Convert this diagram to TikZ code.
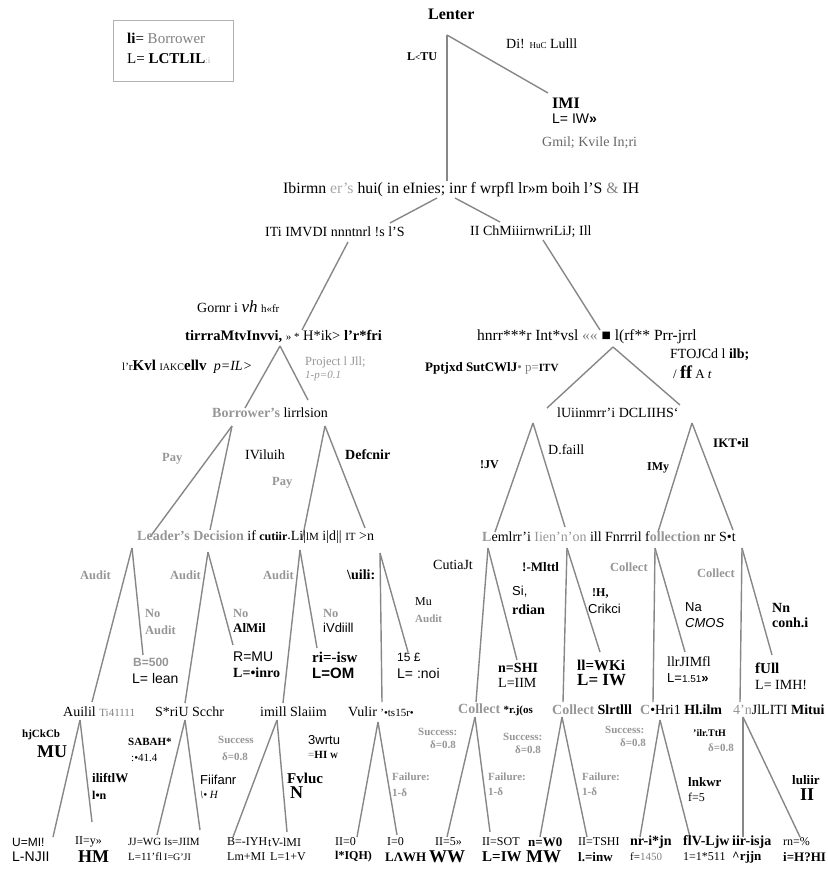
\documentclass[tikz,border=0pt]{standalone}
\usepackage{fontspec}
\setmainfont{Liberation Serif}
\setsansfont{Liberation Sans}
\newcommand\fsz[1]{\fontsize{#1}{#1}\selectfont}
\definecolor{lncol}{RGB}{135,135,135}
\definecolor{gtxt}{RGB}{150,150,150}
\begin{document}
\begin{tikzpicture}[x=1pt,y=-1pt,
  t/.style={inner sep=0pt, anchor=west, font=\fsz{14}},
  tb/.style={t, font=\fsz{14}\bfseries},
  ts/.style={t, font=\sffamily\fsz{13}},
  gl/.style={t, font=\fsz{12.5}\bfseries, text=gtxt},
  gs/.style={t, font=\fsz{11}\bfseries, text=gtxt},
  big/.style={t, font=\fsz{18}\bfseries},
  pay/.style={t, font=\fsz{12}},
  ln/.style={draw=lncol, line width=1.4pt}]
\useasboundingbox (0,0) rectangle (827,869);

% ---------- legend
\node[draw=gray!60, line width=1pt, minimum width=120pt, minimum height=61pt, inner sep=0pt] (legend) at (173,51.5) {};
\node[t, font=\fsz{15}] (leg1) at (127,38) {\textbf{li}= \textcolor{gray}{Borrower}};
\node[t, font=\fsz{15}] (leg2) at (127,59) {L= \textbf{LCTLIL}{\color{gray!60}\fsz{9}:i}};

% ---------- top
\node[t, font=\fsz{16}\bfseries] (lender) at (428,14) {Lenter};
\node[t] (dislbl) at (506,44) {Di! {\fsz{9}HuC} Lulll};
\node[t, font=\fsz{12}\bfseries] (lztu) at (407,57) {L{\fsz{9}\textless}TU};
\node[t, font=\fsz{16}\bfseries] (imi) at (552,103) {IMI};
\node[ts, font=\sffamily\fsz{14}] (imiL) at (552,119) {L= IW\textbf{»}};
\node[t, text=gray!80!black, font=\fsz{14}] (gmil) at (542,143) {Gmil; Kvile In;ri};

\coordinate (root) at (447,35);
\coordinate (rootB) at (447,181);
\coordinate (disc) at (548,93);
\draw[ln] (root) -- (rootB);
\draw[ln] (root) -- (disc);

% ---------- row 1
\node[t, font=\fsz{15.8}] (row1) at (283,190) {Ibirmn {\color{gray!70}er's} hui( in eInies; inr f wrpfl lr»m boih l'S {\color{gray}\&} IH};
\coordinate (s1L) at (437,198); \coordinate (s1Le) at (390,223);
\coordinate (s1R) at (455,198); \coordinate (s1Re) at (500,222);
\draw[ln] (s1L) -- (s1Le);
\draw[ln] (s1R) -- (s1Re);

% ---------- row 2
\node[t] (us) at (265,232) {ITi IMVDI nnntnrl !s l'S};
\node[t] (ch) at (470,232) {II ChMiiirnwriLiJ; Ill};
\coordinate (s2L) at (348,242); \coordinate (s2Le) at (302,330);
\coordinate (s2R) at (543,240); \coordinate (s2Re) at (600,330);
\draw[ln] (s2L) -- (s2Le);
\draw[ln] (s2R) -- (s2Re);

% ---------- row 3
\node[t] (gov) at (197,307) {Gornr i {\fsz{17}\itshape vh} {\fsz{11}h«fr}};
\node[tb, font=\fsz{14.5}\bfseries] (binvL) at (185,337) {tirrraMtvInvvi, {\mdseries\fsz{11}» *} {\mdseries H*ik>} l'r*fri};
\node[t, font=\fsz{15.5}] (binvR) at (477,337) {hnrr***r Int*vsl {\color{gray}««} ■ l(rf** Prr-jrrl};
\coordinate (s3L) at (280,346); \coordinate (s3La) at (245,408); \coordinate (s3Lb) at (308,400);
\coordinate (s3R) at (613,347); \coordinate (s3Ra) at (547,408); \coordinate (s3Rb) at (680,405);
\draw[ln] (s3L) -- (s3La); \draw[ln] (s3L) -- (s3Lb);
\draw[ln] (s3R) -- (s3Ra); \draw[ln] (s3R) -- (s3Rb);

\node[t, font=\fsz{15}] (psL) at (122,367) {{\fsz{11}l'r}\textbf{Kvl} {\fsz{10}IAKC}\textbf{ellv} {\itshape\fsz{14} p=IL>}};
\node[gl, font=\fsz{12.5}] (pfL1) at (305,362) {Project l Jll;};
\node[gl, font=\fsz{11}\itshape] (pfL2) at (305,376) {1-p=0.1};
\node[tb, font=\fsz{13}\bfseries] (psR) at (425,368) {Pptjxd SutCWlJ{\color{gray}\mdseries •\ p=}{\fsz{11}ITV}};
\node[t, font=\fsz{14}] (pfR1) at (670,355) {FTOJCd l \textbf{ilb;}};
\node[t, font=\fsz{13}] (pfR2) at (673,372) {/ {\fsz{18}\bfseries ff} A \textit{t}};

% ---------- row 4
\node[t] (bdL) at (212,413) {{\bfseries\color{gtxt}Borrower's} lirrlsion};
\node[t] (bdR) at (557,413) {lUiinmrr'i DCLIIHS`};
\coordinate (b1) at (232,426); \coordinate (b1a) at (150,537); \coordinate (b1b) at (210,530);
\coordinate (b2) at (325,426); \coordinate (b2a) at (302,540); \coordinate (b2b) at (365,528);
\coordinate (b3) at (533,423); \coordinate (b3a) at (495,532); \coordinate (b3b) at (565,527);
\coordinate (b4) at (692,423); \coordinate (b4a) at (658,532); \coordinate (b4b) at (733,530);
\draw[ln] (b1) -- (b1a); \draw[ln] (b1) -- (b1b);
\draw[ln] (b2) -- (b2a); \draw[ln] (b2) -- (b2b);
\draw[ln] (b3) -- (b3a); \draw[ln] (b3) -- (b3b);
\draw[ln] (b4) -- (b4a); \draw[ln] (b4) -- (b4b);

\node[gl] (pay1) at (162,459) {Pay};
\node[t] (vil) at (245,455) {IViluih};
\node[gl] (pay2) at (272,483) {Pay};
\node[tb] (def1) at (345,455) {Defcnir};
\node[tb, font=\fsz{12}\bfseries] (jv) at (480,465) {!JV};
\node[t] (def2) at (548,450) {D.faill};
\node[tb, font=\fsz{12}\bfseries] (imy) at (647,468) {IMy};
\node[tb, font=\fsz{13}\bfseries] (ikt) at (713,443) {IKT•il};

% ---------- row 5
\node[t] (ldL) at (137,537) {{\bfseries\color{gtxt}Leader's Decision} if {\bfseries\fsz{12}cutiir}\raisebox{1pt}{.}Li|{\fsz{11}lM} i|d||\ {\fsz{11}IT} >n};
\node[t] (ldR) at (482,537) {{\color{gtxt}\bfseries L}emlrr'i {\color{gtxt}Iien'n'on} ill Fnrrril f{\bfseries\color{gtxt}ollection} nr S•t};

\coordinate (c1) at (132,548); \coordinate (c1a) at (92,702); \coordinate (c1b) at (143,655);
\coordinate (c2) at (208,552); \coordinate (c2a) at (185,703); \coordinate (c2b) at (233,645);
\coordinate (c3) at (300,550); \coordinate (c3a) at (283,703); \coordinate (c3b) at (317,648);
\coordinate (c4) at (380,553); \coordinate (c4a) at (382,702); \coordinate (c4b) at (408,652);
\coordinate (c5) at (488,548); \coordinate (c5a) at (476,702); \coordinate (c5b) at (517,660);
\coordinate (c6) at (567,548); \coordinate (c6a) at (563,702); \coordinate (c6b) at (600,652);
\coordinate (c7) at (655,548); \coordinate (c7a) at (653,702); \coordinate (c7b) at (685,652);
\coordinate (c8) at (742,548); \coordinate (c8a) at (740,702); \coordinate (c8b) at (772,655);
\foreach \k in {1,...,8} {\draw[ln] (c\k) -- (c\k a); \draw[ln] (c\k) -- (c\k b);}

\node[gl] (au1) at (80,575) {Audit};
\node[gl] (na1a) at (145,613) {No};
\node[gl] (na1b) at (145,630) {Audit};
\node[gl] (au2) at (170,575) {Audit};
\node[gl] (na2a) at (233,613) {No};
\node[tb, font=\fsz{13}\bfseries] (na2b) at (233,628) {AlMil};
\node[gl] (au3) at (263,575) {Audit};
\node[gl] (na3a) at (323,613) {No};
\node[ts] (na3b) at (323,628) {iVdiill};
\node[tb] (au4) at (347,575) {\textbackslash uili:};
\node[t, font=\fsz{12}] (na4a) at (415,602) {Mu};
\node[gl, font=\fsz{11}\bfseries] (na4b) at (415,619) {Audit};

\node[t] (cut) at (433,565) {CutiaJt};
\node[tb, font=\fsz{13}\bfseries] (mltt) at (522,567) {!-Mlttl};
\node[ts] (si) at (512,592) {Si,};
\node[tb] (rdian) at (512,610) {rdian};
\node[tb, font=\fsz{12}\bfseries] (hh) at (592,593) {!H,};
\node[ts] (crik) at (588,609) {Crikci};
\node[gl] (col1) at (610,567) {Collect};
\node[ts] (na) at (685,607) {Na};
\node[ts, font=\sffamily\itshape\fsz{13}] (cmos) at (685,623) {CMOS};
\node[gl] (col2) at (697,573) {Collect};
\node[tb] (nn) at (772,608) {Nn};
\node[tb] (conh) at (772,623) {conh.i};

% ---------- mid payoffs
\node[gl, font=\sffamily\fsz{12}\bfseries] (p1a) at (133,662) {B=500};
\node[ts, font=\sffamily\fsz{14}] (p1b) at (132,678) {L= lean};
\node[ts, font=\sffamily\fsz{14}] (p2a) at (233,657) {R=MU};
\node[tb] (p2b) at (233,673) {L=•inro};
\node[tb, font=\fsz{15}\bfseries] (p3a) at (312,657) {ri=-isw};
\node[ts, font=\sffamily\bfseries\fsz{15}] (p3b) at (312,673) {L=OM};
\node[ts, font=\sffamily\fsz{12}] (p4a) at (397,657) {15 £};
\node[ts, font=\sffamily\fsz{14}] (p4b) at (397,673) {L= :noi};
\node[tb] (p5a) at (498,668) {n=SHI};
\node[t] (p5b) at (498,683) {L=IIM};
\node[tb, font=\fsz{15}\bfseries] (p6a) at (577,665) {ll=WKi};
\node[tb, font=\fsz{17}\bfseries] (p6b) at (577,680) {L= IW};
\node[t] (p7a) at (667,662) {llrJIMfl};
\node[ts, font=\sffamily\fsz{13}] (p7b) at (667,678) {L={\fsz{10}1.51}\textbf{»}};
\node[tb, font=\fsz{15}\bfseries] (p8a) at (755,668) {fUll};
\node[t] (p8b) at (755,685) {L= IMH!};

% ---------- row 6 chance nodes
\node[t] (ch1) at (63,712) {Auilil {\color{gray}\fsz{11}Ti41111}};
\node[t] (ch2) at (155,712) {S*riU Scchr};
\node[t] (ch3) at (260,712) {imill Slaiim};
\node[t] (ch4) at (348,712) {Vulir {\fsz{11}'•ts15r•}};
\node[t] (ch5) at (458,710) {{\bfseries\color{gtxt}Collect} {\bfseries\fsz{11}*r.j(os}};
\node[t] (ch6) at (552,710) {{\bfseries\color{gtxt}Collect} \textbf{Slrtlll}};
\node[t] (ch7) at (640,710) {{\bfseries\color{gtxt}C}•Hri1 \textbf{Hl.ilm}};
\node[t] (ch8) at (733,710) {{\color{gtxt}4'n}JlLITI \textbf{Mitui}};

\coordinate (d1) at (80,720); \coordinate (d1a) at (53,837); \coordinate (d1b) at (92,822);
\coordinate (d2) at (185,720); \coordinate (d2a) at (157,835); \coordinate (d2b) at (200,830);
\coordinate (d3) at (277,720); \coordinate (d3a) at (233,837); \coordinate (d3b) at (287,832);
\coordinate (d4) at (378,722); \coordinate (d4a) at (357,837); \coordinate (d4b) at (397,835);
\coordinate (d5) at (475,717); \coordinate (d5a) at (447,837); \coordinate (d5b) at (490,832);
\coordinate (d6) at (562,717); \coordinate (d6a) at (540,837); \coordinate (d6b) at (587,837);
\coordinate (d7) at (660,720); \coordinate (d7a) at (640,837); \coordinate (d7b) at (690,837);
\coordinate (d8) at (743,717); \coordinate (d8a) at (743,837); \coordinate (d8b) at (800,837);
\foreach \k in {1,...,8} {\draw[ln] (d\k) -- (d\k a); \draw[ln] (d\k) -- (d\k b);}

\node[tb, font=\fsz{11}\bfseries] (e1) at (22,735) {hjCkCb};
\node[big] (e2) at (37,752) {MU};
\node[tb, font=\fsz{13}\bfseries] (e3) at (92,778) {iliftlW};
\node[tb, font=\fsz{12}\bfseries] (e4) at (92,795) {l•n};
\node[tb, font=\fsz{11}\bfseries] (e5) at (128,742) {SABAH*};
\node[t, font=\fsz{11}] (e6) at (131,758) {:•41.4};
\node[gs] (e7) at (218,740) {Success};
\node[gs] (e8) at (222,757) {δ=0.8};
\node[ts, font=\sffamily\fsz{13}] (e9) at (200,780) {Fiifanr};
\node[t, font=\fsz{11}\itshape] (e10) at (200,795) {\textbackslash• H};
\node[ts, font=\sffamily\fsz{13}] (e11) at (308,740) {3wrtu};
\node[t, font=\fsz{11}\bfseries] (e12) at (308,755) {{\color{gtxt}=}HI {\fsz{8}W}};
\node[tb, font=\fsz{15}\bfseries] (e13) at (287,778) {Fvluc};
\node[big] (e14) at (290,793) {N};
\node[gs] (e15) at (392,777) {Failure:};
\node[gs] (e16) at (392,793) {1-δ};
\node[gs] (e17) at (418,732) {Success:};
\node[gs] (e18) at (430,745) {δ=0.8};
\node[gs] (e19) at (503,737) {Success:};
\node[gs] (e20) at (515,750) {δ=0.8};
\node[gs] (e21) at (488,777) {Failure:};
\node[gs] (e22) at (488,792) {1-δ};
\node[gs] (e23) at (582,777) {Failure:};
\node[gs] (e24) at (582,792) {1-δ};
\node[gs] (e25) at (605,730) {Success:};
\node[gs] (e26) at (620,743) {δ=0.8};
\node[tb, font=\fsz{10}\bfseries] (e27) at (693,733) {'ilr.TtH};
\node[gs] (e28) at (708,748) {δ=0.8};
\node[tb, font=\fsz{13}\bfseries] (e29) at (688,782) {lnkwr};
\node[t, font=\fsz{12}] (e30) at (688,797) {f=5};
\node[tb, font=\fsz{13}\bfseries] (e31) at (792,780) {luliir};
\node[big] (e32) at (800,795) {II};

% ---------- bottom payoffs
\node[ts, font=\sffamily\fsz{12}] (f1a) at (12,842) {U=MI!};
\node[ts, font=\sffamily\fsz{14}] (f1b) at (12,857) {L-NJII};
\node[pay] (f2a) at (75,842) {II=y>>};
\node[big] (f2b) at (78,857) {HM};
\node[pay, font=\fsz{11}] (f3a) at (128,842) {JJ=WG};
\node[pay, font=\fsz{11}] (f3b) at (128,857) {L=11'fl};
\node[pay, font=\fsz{11}] (f4a) at (164,842) {Is=JIIM};
\node[pay, font=\fsz{10}] (f4b) at (164,857) {I=G'JI};
\node[pay] (f5a) at (227,842) {B=-IYH};
\node[pay] (f5b) at (227,857) {Lm+MI};
\node[pay] (f6a) at (268,842) {tV-lMI};
\node[pay] (f6b) at (270,857) {L=1+V};
\node[pay] (f7a) at (335,842) {II=0};
\node[pay, font=\fsz{12}\bfseries] (f7b) at (335,857) {l*IQH)};
\node[pay] (f8a) at (387,842) {I=0};
\node[tb, font=\fsz{13}\bfseries] (f8b) at (385,857) {LΛWH};
\node[pay] (f9a) at (435,842) {II=5»};
\node[big] (f9b) at (429,857) {WW};
\node[pay] (f10a) at (482,842) {II=SOT};
\node[tb, font=\fsz{15}\bfseries] (f10b) at (482,857) {L=IW};
\node[tb, font=\fsz{13}\bfseries] (f11a) at (528,842) {n=W0};
\node[big] (f11b) at (526,857) {MW};
\node[pay] (f12a) at (578,842) {II=TSHI};
\node[tb, font=\fsz{13}\bfseries] (f12b) at (578,857) {l.=inw};
\node[tb, font=\fsz{14}\bfseries] (f13a) at (630,842) {nr-i*jn};
\node[pay, font=\fsz{11}] (f13b) at (630,857) {f={\color{gray}1450}};
\node[tb, font=\fsz{14}\bfseries] (f14a) at (683,842) {flV-Ljw};
\node[pay, font=\fsz{12}] (f14b) at (683,857) {1=1*511};
\node[tb, font=\fsz{14}\bfseries] (f15a) at (732,842) {iir-isja};
\node[tb, font=\fsz{13}\bfseries] (f15b) at (732,857) {\textasciicircum rjjn};
\node[pay] (f16a) at (783,842) {rn=\%};
\node[tb, font=\fsz{13}\bfseries] (f16b) at (783,857) {i=H?HI};
\end{tikzpicture}
\end{document}
